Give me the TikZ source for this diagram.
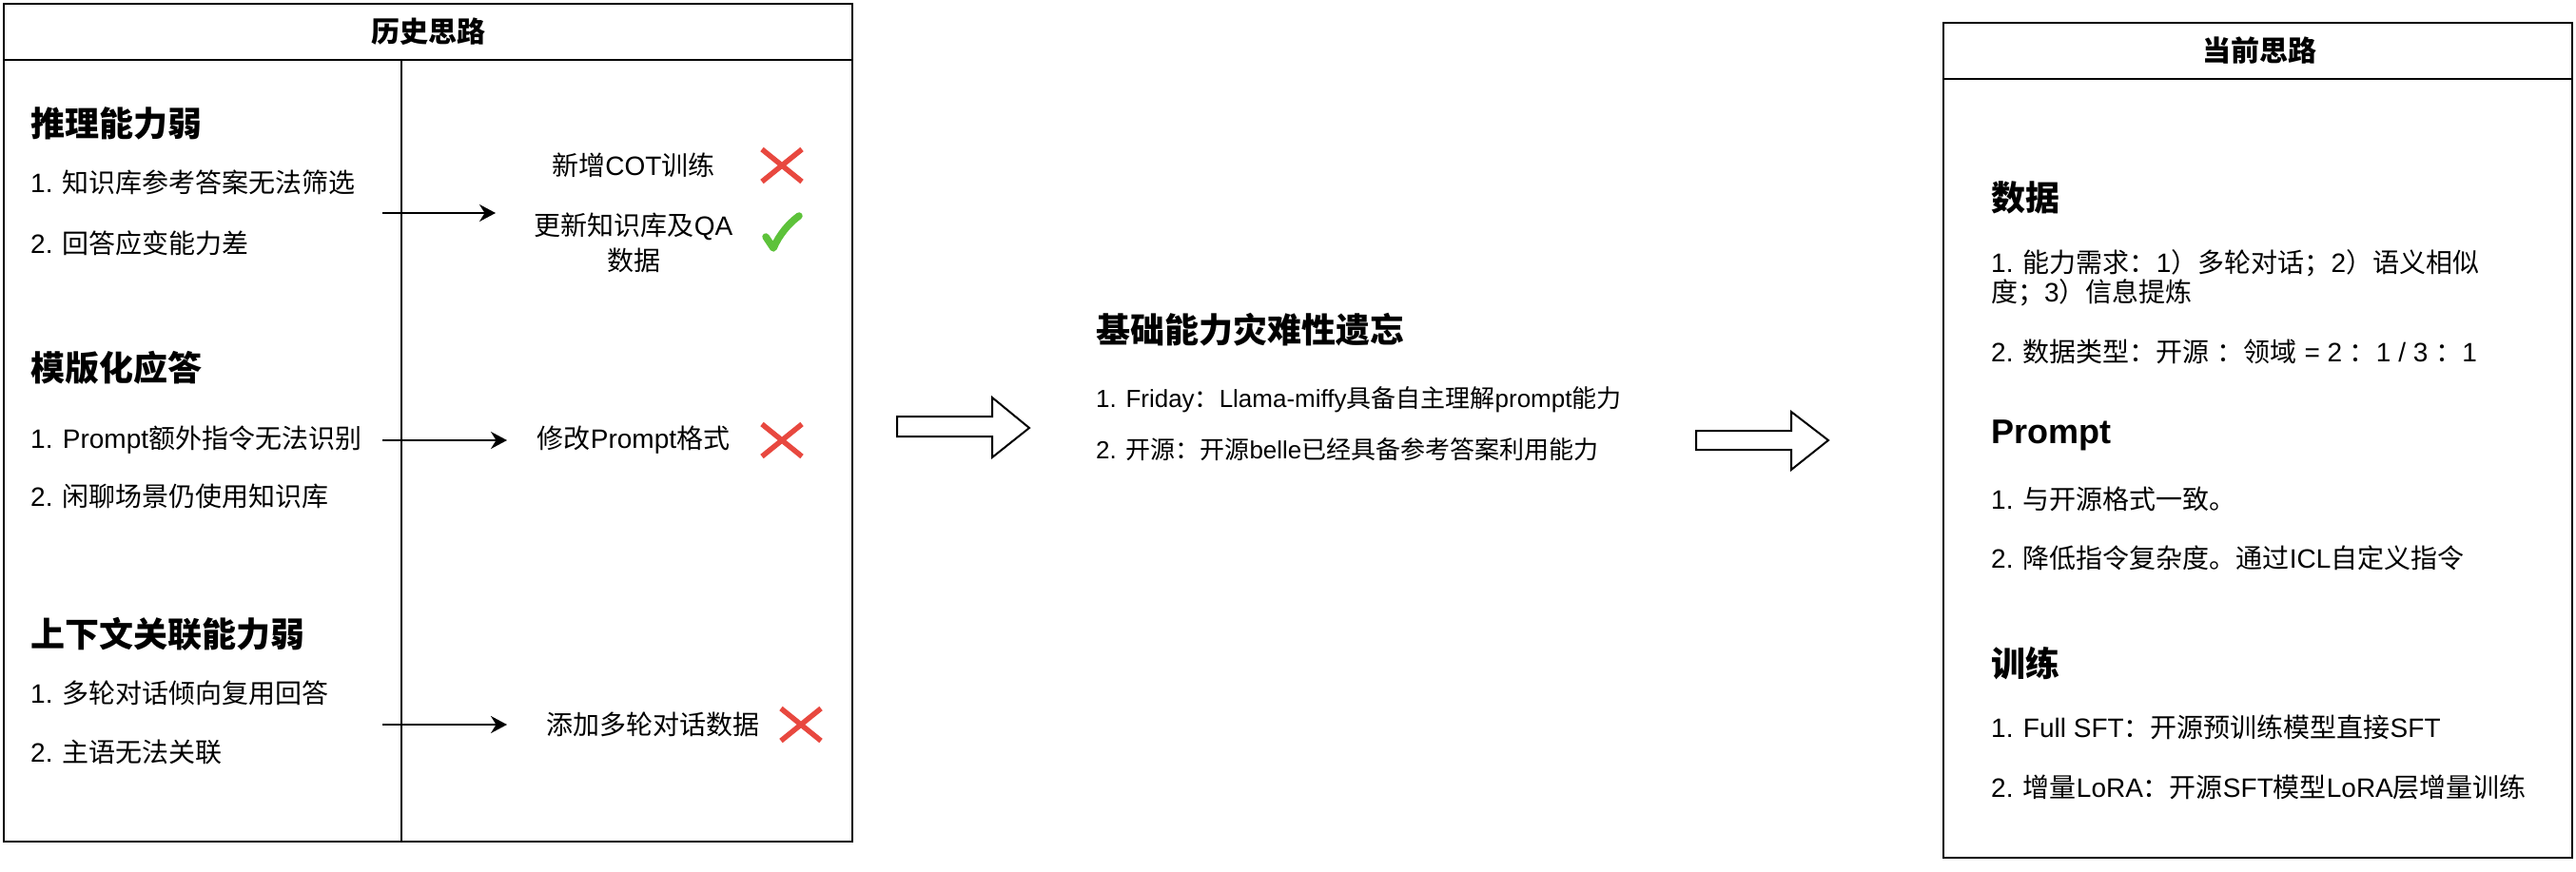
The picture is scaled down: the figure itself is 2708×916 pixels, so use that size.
\documentclass[tikz,border=0pt]{standalone}
\usepackage{fontspec}
\usetikzlibrary{arrows.meta}
\setmainfont{Liberation Sans}
\newfontfamily\cjk{Noto Sans CJK SC}
\XeTeXinterchartokenstate=1
\newXeTeXintercharclass\cjkcls
\makeatletter
\count@="3000 \loop \XeTeXcharclass\count@=\cjkcls \advance\count@ 1 \ifnum\count@<"3040 \repeat
\count@="4E00 \loop \XeTeXcharclass\count@=\cjkcls \advance\count@ 1 \ifnum\count@<"A000 \repeat
\count@="FF00 \loop \XeTeXcharclass\count@=\cjkcls \advance\count@ 1 \ifnum\count@<"FFF0 \repeat
\makeatother
\XeTeXinterchartoks 0 \cjkcls = {\cjk}
\XeTeXinterchartoks 4095 \cjkcls = {\cjk}
\XeTeXinterchartoks \cjkcls 0 = {\rmfamily}
\XeTeXinterchartoks \cjkcls 4095 = {\rmfamily}
\definecolor{xred}{HTML}{E8483F}
\definecolor{cgreen}{HTML}{5DC23A}
\tikzset{
  ttlbox/.style={inner sep=0pt, font=\fontsize{30}{36}\selectfont\bfseries},
  hdtext/.style={anchor=west, inner sep=0pt, font=\fontsize{36}{43}\selectfont\bfseries},
  itmtext/.style={anchor=west, inner sep=0pt, font=\fontsize{28}{34}\selectfont},
  mitmtext/.style={anchor=west, inner sep=0pt, font=\fontsize{26}{31}\selectfont},
  restext/.style={inner sep=0pt, align=center, font=\fontsize{28}{37}\selectfont},
  boxline/.style={draw, line width=2.5pt},
  connline/.style={-{Stealth[length=17pt,width=18pt]}, line width=2pt},
  blkarrow/.style={draw, line width=2pt, fill=white, line join=miter},
  xmark/.style={draw=xred, line width=5.5pt},
  chkmark/.style={draw=cgreen, line width=7.5pt, line cap=round, line join=round},
}
\begin{document}
\begin{tikzpicture}[x=1pt,y=-1pt]
\useasboundingbox (0,0) rectangle (2708,916);
% ---------- left box ----------
\draw[boxline] (4,4) rectangle (896,885);
\draw[boxline] (4,63) -- (896,63);
\draw[line width=2pt] (422,63) -- (422,885);
\node[ttlbox] (lt) at (450,33) {历史思路};
\node[hdtext] (h1) at (32,130) {推理能力弱};
\node[itmtext] (h1a) at (32,192) {1. 知识库参考答案无法筛选};
\node[itmtext] (h1b) at (32,256) {2. 回答应变能力差};
\node[hdtext] (h2) at (32,387) {模版化应答};
\node[itmtext] (h2a) at (32,463) {1. Prompt额外指令无法识别};
\node[itmtext] (h2b) at (32,522) {2. 闲聊场景仍使用知识库};
\node[hdtext] (h3) at (32,667) {上下文关联能力弱};
\node[itmtext] (h3a) at (32,729) {1. 多轮对话倾向复用回答};
\node[itmtext] (h3b) at (32,791) {2. 主语无法关联};
% results
\node[restext] (r1) at (666,174) {新增COT训练};
\node[restext] (r2) at (666,255) {更新知识库及QA\\数据};
\node[restext] (r3) at (666,463) {修改Prompt格式};
\node[restext] (r4) at (686,762) {添加多轮对话数据};
% marks
\draw[xmark] (801,157) -- (843,191) (801,191) -- (843,157);
\draw[xmark] (801,446) -- (843,480) (801,480) -- (843,446);
\draw[xmark] (821,745) -- (863,779) (821,779) -- (863,745);
\draw[chkmark] (805,249) -- (813,261) .. controls (819,247) and (829,235) .. (840,227);
% connectors
\coordinate (s1) at (402,224); \coordinate (e1) at (521,224);
\coordinate (s2) at (402,463); \coordinate (e2) at (533,463);
\coordinate (s3) at (402,762); \coordinate (e3) at (533,762);
\draw[connline] (s1) -- (e1);
\draw[connline] (s2) -- (e2);
\draw[connline] (s3) -- (e3);
% ---------- middle ----------
\draw[blkarrow] (943,438) -- (1043,438) -- (1043,418) -- (1082,450) -- (1043,481) -- (1043,459) -- (943,459) -- cycle;
\node[hdtext] (m0) at (1152,347) {基础能力灾难性遗忘};
\node[mitmtext] (m1) at (1152,420) {1. Friday：Llama-miffy具备自主理解prompt能力};
\node[mitmtext] (m2) at (1152,473) {2. 开源：开源belle已经具备参考答案利用能力};
\draw[blkarrow] (1783,453) -- (1883,453) -- (1883,433) -- (1922,463) -- (1883,494) -- (1883,473) -- (1783,473) -- cycle;
% ---------- right box ----------
\draw[boxline] (2043,24) rectangle (2704,902);
\draw[boxline] (2043,83) -- (2704,83);
\node[ttlbox] (rt) at (2375,53) {当前思路};
\node[hdtext] (d0) at (2093,208) {数据};
\node[itmtext, align=left, font=\fontsize{28}{31}\selectfont] (d1) at (2093,292) {1. 能力需求：1）多轮对话；2）语义相似\\度；3）信息提炼};
\node[itmtext] (d2) at (2093,370) {2. 数据类型：开源 ：领域 = 2 ：1 / 3 ：1};
\node[hdtext] (p0) at (2093,458) {Prompt};
\node[itmtext] (p1) at (2093,525) {1. 与开源格式一致。};
\node[itmtext] (p2) at (2093,587) {2. 降低指令复杂度。通过ICL自定义指令};
\node[hdtext] (t0) at (2093,698) {训练};
\node[itmtext] (t1) at (2093,765) {1. Full SFT：开源预训练模型直接SFT};
\node[itmtext] (t2) at (2093,828) {2. 增量LoRA：开源SFT模型LoRA层增量训练};
\end{tikzpicture}
\end{document}
